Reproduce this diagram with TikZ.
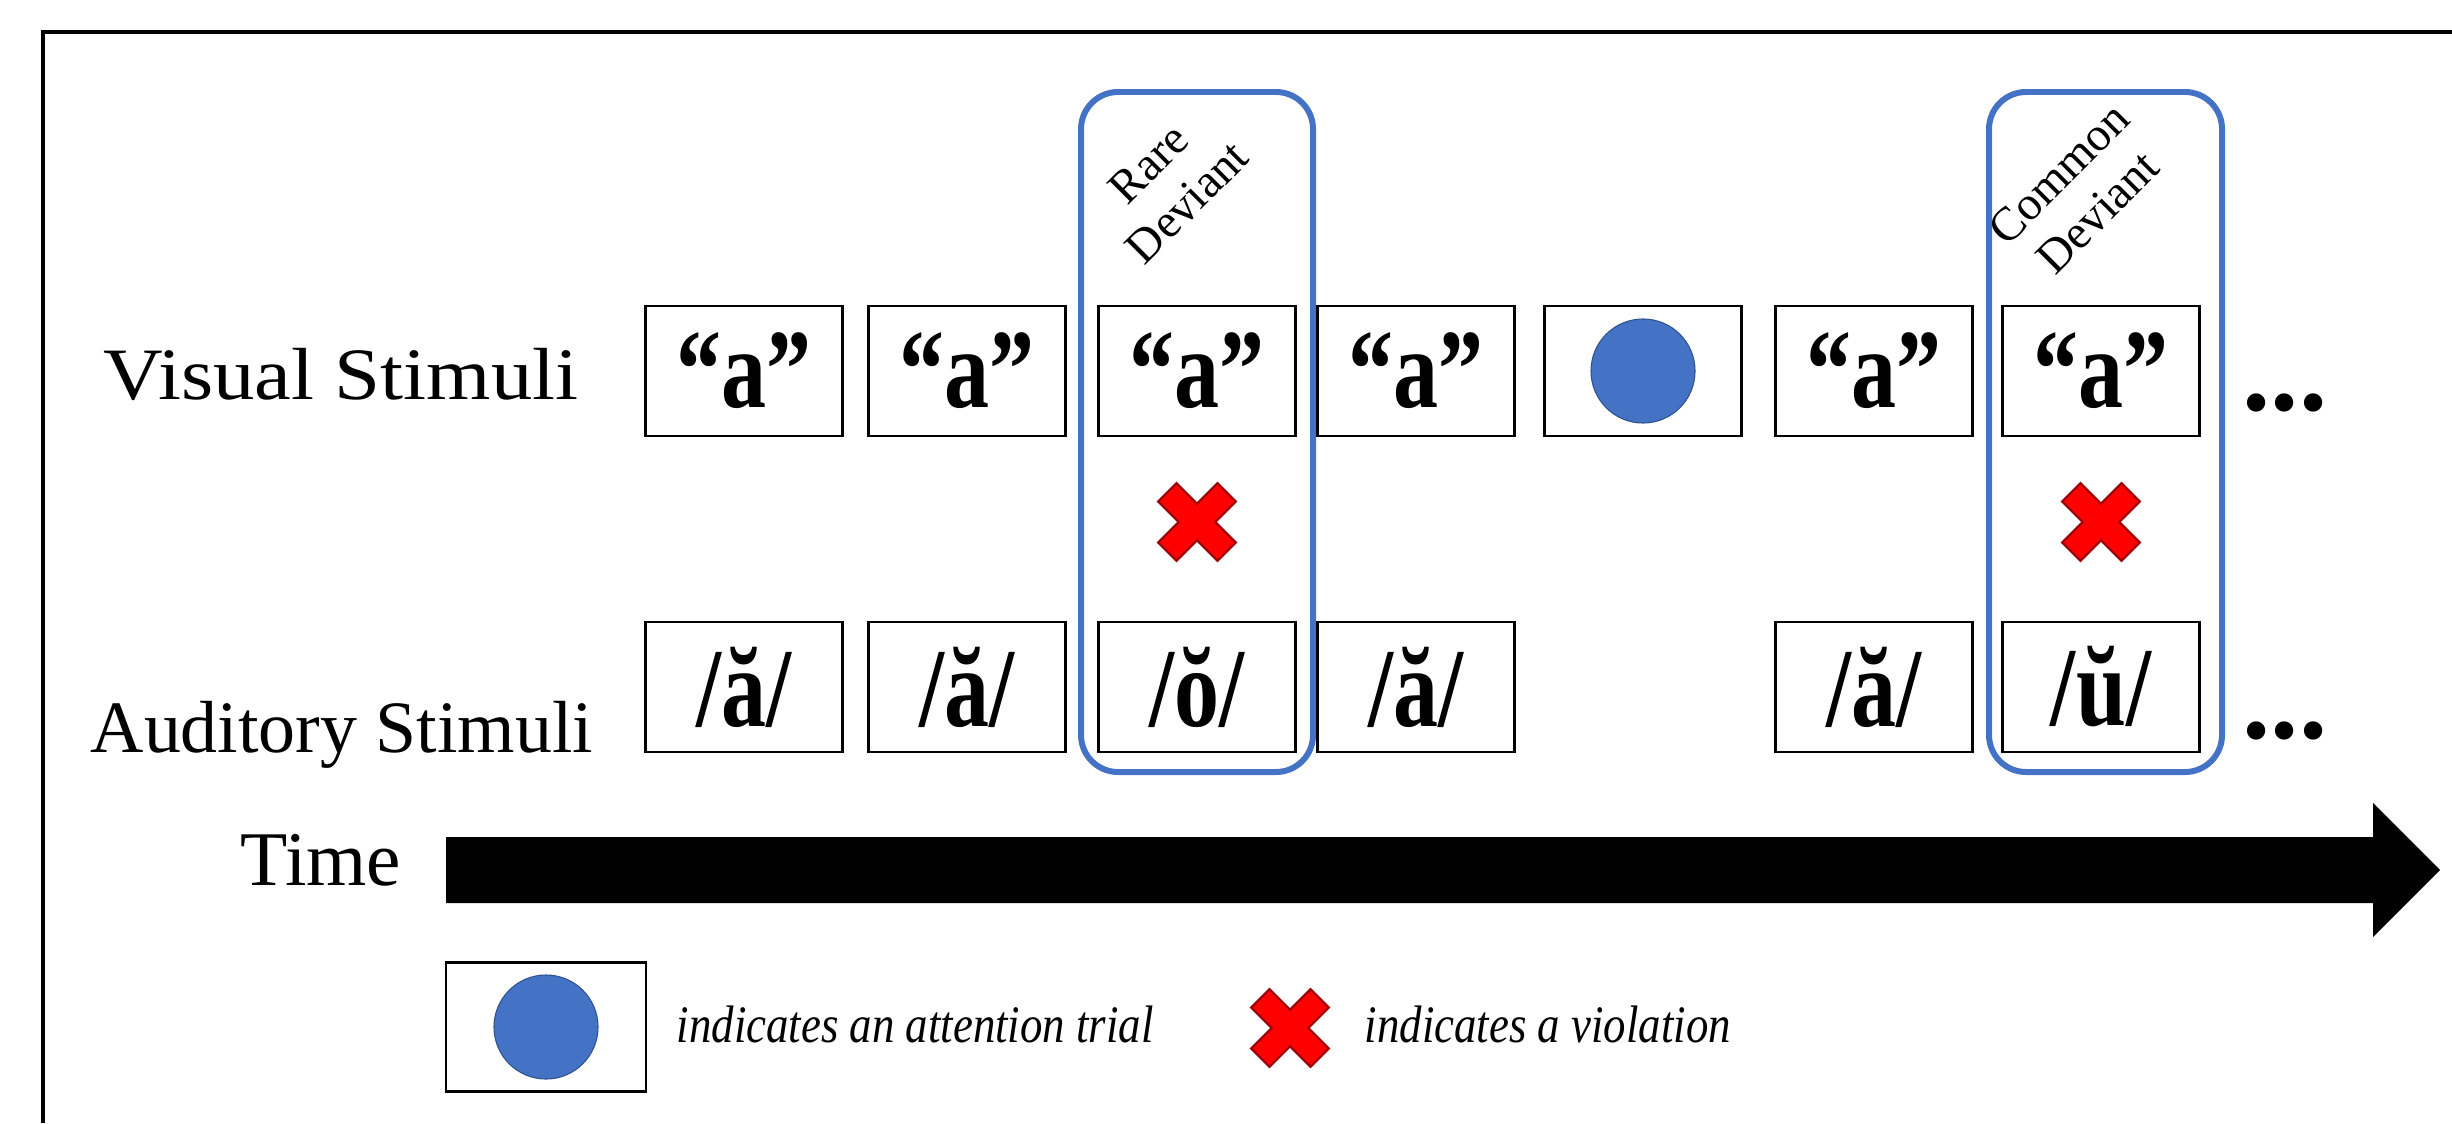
\documentclass[tikz,border=0pt]{standalone}
\usepackage{fontspec}
\setmainfont{Liberation Serif}
\usetikzlibrary{positioning}
\definecolor{officeBlue}{HTML}{4472C4}
\definecolor{officeBlueDark}{HTML}{2F528F}
\definecolor{crossRed}{HTML}{FF0000}
\definecolor{crossRedDark}{HTML}{9C0006}
\tikzset{
  stimbox/.style={rectangle, fill=white, draw, line width=0.8pt, minimum width=1.97cm, minimum height=1.30cm, inner sep=0pt,
    font=\fontsize{32}{34}\selectfont\bfseries\addfontfeature{FakeStretch=0.8}},
  rowLabel/.style={inner sep=0pt, anchor=base, font=\fontsize{21}{24}\selectfont},
  devFrame/.style={draw=officeBlue, line width=1.7pt, rounded corners=0.37cm},
  devLabel/.style={rotate=45, align=center, inner sep=0pt, font=\fontsize{13.5}{15.5}\selectfont},
  attnDot/.style={circle, fill=officeBlue, draw=officeBlueDark, line width=0.3pt, minimum size=1.04cm, inner sep=0pt},
  legendText/.style={inner sep=0pt, anchor=base west, font=\fontsize{15}{18}\selectfont\itshape\addfontfeature{FakeStretch=0.85}},
  moreDots/.style={inner sep=0pt, anchor=base, font=\fontsize{32}{34}\selectfont\bfseries},
  violation/.pic={
    \draw[fill=crossRed, draw=crossRedDark, line width=0.6pt, rotate=45]
      (13,13) -- (13,42) -- (-13,42) -- (-13,13) -- (-42,13) -- (-42,-13)
      -- (-13,-13) -- (-13,-42) -- (13,-42) -- (13,-13) -- (42,-13) -- (42,13) -- cycle;
  }
}
\begin{document}
\begin{tikzpicture}[x=0.01cm, y=0.01cm]
  \useasboundingbox (0,0) rectangle (2452,1123);
  % frame (runs off the page on the right and at the bottom)
  \draw[line width=1pt] (43,0) |- (2452,1091);

  % row labels
  \node [rowLabel] (visLabel) at (341,724) {\scalebox{1.12}[1]{Visual Stimuli}};
  \node [rowLabel] (audLabel) at (342,371) {Auditory Stimuli};
  \node [rowLabel, font=\fontsize{22}{24}\selectfont] (timeLabel) at (321,238) {Time};

  % deviant frames
  \draw [devFrame] (1081,351) rectangle (1313,1031);
  \draw [devFrame] (1989,351) rectangle (2222,1031);
  \node [devLabel] (rareLabel) at (1168,940) {Rare\\Deviant};
  \node [devLabel] (commonLabel) at (2078,930) {Common\\Deviant};

  % visual stimuli
  \node [stimbox] (v1) at (744,752) {“a”};
  \node [stimbox] (v2) at (967,752) {“a”};
  \node [stimbox] (v3) at (1197,752) {“a”};
  \node [stimbox] (v4) at (1416,752) {“a”};
  \node [stimbox] (v5) at (1643,752) {};
  \node [attnDot] (v5dot) at (v5.center) {};
  \node [stimbox] (v6) at (1874,752) {“a”};
  \node [stimbox] (v7) at (2101,752) {“a”};
  \node [moreDots] (vMore) at (2285,713) {...};

  % violations
  \pic at (1197,601) {violation};
  \pic at (2101,601) {violation};

  % auditory stimuli
  \node [stimbox] (a1) at (744,436) {/ă/};
  \node [stimbox] (a2) at (967,436) {/ă/};
  \node [stimbox] (a3) at (1197,436) {/ŏ/};
  \node [stimbox] (a4) at (1416,436) {/ă/};
  \node [stimbox] (a6) at (1874,436) {/ă/};
  \node [stimbox] (a7) at (2101,436) {/ŭ/};
  \node [moreDots] (aMore) at (2285,385) {...};

  % time arrow
  \fill (446,220) -- (2373,220) -- (2373,186) -- (2440,253)
    -- (2373,320) -- (2373,286) -- (446,286) -- cycle;

  % legend
  \node [stimbox, minimum width=2cm, minimum height=1.29cm] (legBox) at (546,96) {};
  \node [attnDot] (legDot) at (legBox.center) {};
  \node [legendText] (legAttn) at (676,81) {indicates an attention trial};
  \pic at (1290,95) {violation};
  \node [legendText] (legViol) at (1364,81) {indicates a violation};
\end{tikzpicture}
\end{document}
